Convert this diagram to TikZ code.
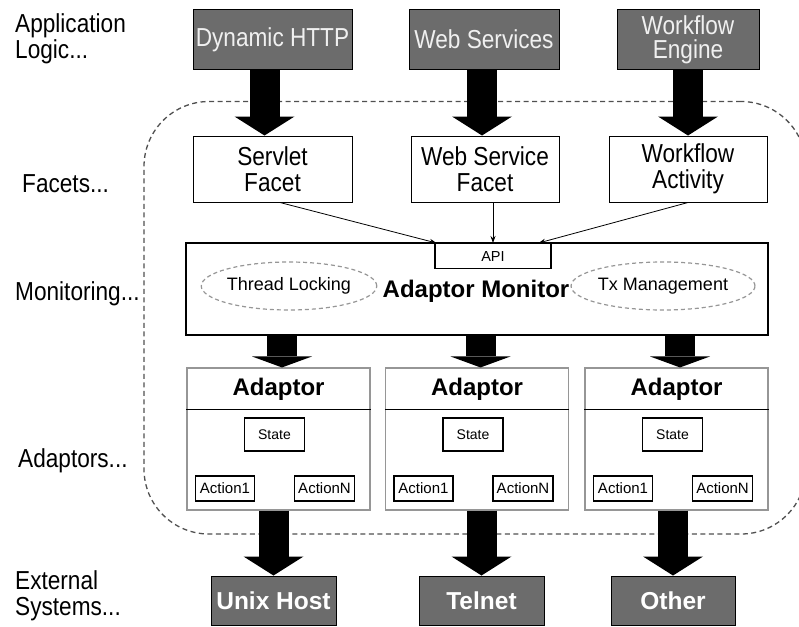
\documentclass[tikz,border=0pt]{standalone}
\usepackage{fontspec}
\setmainfont{Liberation Sans}
\newfontfamily\stretchfont{Liberation Sans}[FakeStretch=0.87]
\usetikzlibrary{arrows.meta,shapes.geometric}
\definecolor{boxgray}{RGB}{108,108,108}
\definecolor{dashgray}{RGB}{80,80,80}
\definecolor{lightline}{RGB}{150,150,150}
\begin{document}
\begin{tikzpicture}[x=1pt,y=-1pt,
  lbl/.style={font=\stretchfont\fontsize{26}{26}\selectfont},
  side/.style={lbl, inner sep=0pt, align=left},
  appbox/.style={draw=black, line width=1pt, fill=boxgray, text=white!94!black, inner sep=0pt, align=center, font=\stretchfont\fontsize{26}{24}\selectfont},
  facet/.style={draw=black, line width=1pt, fill=white, inner sep=0pt, align=center, lbl},
  extbox/.style={draw=black, line width=1pt, fill=boxgray, text=white, inner sep=0pt, font=\bfseries\fontsize{24.5}{24.5}\selectfont},
  smallbox/.style={draw=black, line width=1.1pt, fill=white, inner sep=0pt},
  adbox/.style={draw=lightline, line width=1.1pt, fill=white, inner sep=0pt},
  dashell/.style={ellipse, draw=lightline, line width=1.2pt, dash pattern=on 4pt off 3pt, inner sep=0pt, font=\fontsize{18}{18}\selectfont},
  region/.style={draw=dashgray, line width=1.3pt, dash pattern=on 5pt off 3.5pt, rounded corners=65pt, inner sep=0pt},
  boldlbl/.style={inner sep=0pt, font=\bfseries\fontsize{24}{24}\selectfont},
  bigarrow/.style={line width=30pt, -{Triangle[width=60pt,length=19pt,line width=0pt]}},
  midarrow/.style={line width=30pt, -{Triangle[width=60pt,length=11pt,line width=0pt]}},
  thinarrow/.style={line width=0.8pt, -{Stealth[length=7pt,width=5pt]}}
]
\clip (0,0) rectangle (799,626);

% grouping region
\node[region, minimum width=662, minimum height=432.5] (grp) at (475,317.75) {};

% left labels
\node[side, anchor=north west] (lapp) at (15,13) {Application\\Logic...};
\node[side, anchor=base west] (lfac) at (22,192) {Facets...};
\node[side, anchor=base west] (lmon) at (15,300) {Monitoring...};
\node[side, anchor=base west] (lada) at (18,467) {Adaptors...};
\node[side, anchor=north west] (lext) at (15,570) {External\\Systems...};

% application logic
\node[appbox, minimum width=159, minimum height=59] (dyn) at (272.5,39.5) {Dynamic HTTP};
\node[appbox, minimum width=150, minimum height=59] (ws) at (484,39.5) {Web Services};
\node[appbox, minimum width=142, minimum height=59] (wf) at (688,39.5) {Workflow\\Engine};

% facets
\node[facet, minimum width=159, minimum height=66] (sf) at (272.5,169) {Servlet\\Facet};
\node[facet, minimum width=148, minimum height=66] (wsf) at (485,169) {Web Service\\Facet};
\node[facet, minimum width=158, minimum height=66] (wfa) at (688,169) {Workflow\\Activity};

% monitor
\node[draw=black, line width=1.1pt, fill=white, minimum width=582, minimum height=92, inner sep=0pt] (mon) at (477,289) {};
\node[smallbox, minimum width=116, minimum height=25, font=\fontsize{14.5}{14.5}\selectfont, anchor=north] (api) at (493,243) {API};
\node[dashell, minimum width=174, minimum height=48] (tl) at (289,286) {Thread Locking};
\node[dashell, minimum width=176, minimum height=48] (tx) at (663,286) {Tx Management};
\node[boldlbl] (amt) at (476,291) {Adaptor Monitor};

% adaptors
\foreach \i/\x in {1/278.5,2/477,3/676.5}{
  \node[adbox, minimum width=183, minimum height=142] (a\i) at (\x,439) {};
  \node[boldlbl] (ah\i) at (\x,389) {Adaptor};
  \draw[line width=1.1pt] ([yshift=-42pt]a\i.north west) -- ([yshift=-42pt]a\i.north east);
  \node[smallbox, minimum width=60, minimum height=33, font=\fontsize{14}{14}\selectfont] (st\i) at (\x-4,434.5) {State};
  \node[smallbox, minimum width=59, minimum height=25, font=\fontsize{15}{15}\selectfont] (ac\i) at (\x-53.5,488.5) {Action1};
  \node[smallbox, minimum width=60, minimum height=25, font=\fontsize{15}{15}\selectfont] (an\i) at (\x+46,488.5) {ActionN};
}

% external systems
\node[extbox, minimum width=125, minimum height=49] (e1) at (273.5,600.5) {Unix Host};
\node[extbox, minimum width=125, minimum height=49] (e2) at (481.5,600.5) {Telnet};
\node[extbox, minimum width=124, minimum height=49] (e3) at (673,600.5) {Other};

% big arrows
\draw[bigarrow] ([xshift=-8pt]dyn.south) -- ([xshift=-8pt]sf.north);
\draw[bigarrow] ([xshift=-2pt]ws.south) -- ([xshift=-3pt]wsf.north);
\draw[bigarrow] (wf.south) -- (wfa.north);
\foreach \i in {1,2,3}{
  \draw[midarrow] ([xshift=3.5pt]mon.south -| a\i.north) -- ([xshift=3.5pt]a\i.north);
  \draw[bigarrow] (a\i.south -| e\i.north) -- (e\i.north);
}

% thin arrows into API
\draw[thinarrow] ([xshift=7.5pt]sf.south) -- ([xshift=2pt]api.north west);
\draw[thinarrow] (api.north |- wsf.south) -- (api.north);
\draw[thinarrow] (wfa.south) -- ([xshift=-13pt]api.north east);
\end{tikzpicture}
\end{document}
